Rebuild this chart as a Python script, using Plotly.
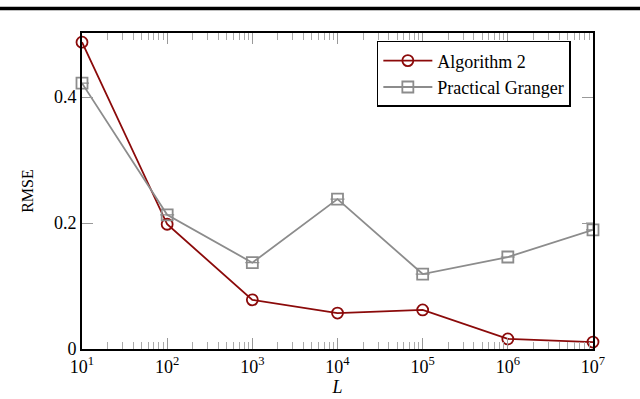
import plotly.graph_objects as go

L_values = [1e1, 1e2, 1e3, 1e4, 1e5, 1e6, 1e7]
alg2_rmse = [0.487, 0.198, 0.078, 0.057, 0.062, 0.016, 0.011]
granger_rmse = [0.422, 0.213, 0.137, 0.238, 0.119, 0.146, 0.189]
granger_err_plus = [0, 0, 0, 0, 0, 0, 0.011]
x_tick_vals = [1e1, 1e2, 1e3, 1e4, 1e5, 1e6, 1e7]
x_tick_text = ["10<sup>1</sup>", "10<sup>2</sup>", "10<sup>3</sup>", "10<sup>4</sup>",
               "10<sup>5</sup>", "10<sup>6</sup>", "10<sup>7</sup>"]
y_tick_vals = [0, 0.2, 0.4]
y_tick_text = ["0", "0.2", "0.4"]

RED = "#8b0a0a"
GRAY = "#8c8c8c"
FONT = "Liberation Serif"

fig = go.Figure()
fig.add_trace(go.Scatter(
    x=L_values, y=alg2_rmse, name="Algorithm 2", mode="lines+markers",
    line=dict(color=RED, width=1.8),
    marker=dict(symbol="circle-open", size=11, color=RED, line=dict(width=1.8)),
    cliponaxis=False,
))
fig.add_trace(go.Scatter(
    x=L_values, y=granger_rmse, name="Practical Granger", mode="lines+markers",
    line=dict(color=GRAY, width=1.8),
    marker=dict(symbol="square-open", size=11, color=GRAY, line=dict(width=1.8)),
    error_y=dict(type="data", symmetric=False, array=granger_err_plus,
                 arrayminus=[0] * len(granger_err_plus), color=GRAY, thickness=1.2, width=7),
    cliponaxis=False,
))

fig.update_layout(
    width=640, height=399,
    margin=dict(l=82, r=47, t=33, b=50, autoexpand=False),
    paper_bgcolor="white", plot_bgcolor="white",
    font=dict(family=FONT, size=15, color="black"),
    showlegend=True,
    legend=dict(
        x=0.577, y=0.975, xanchor="left", yanchor="top",
        bgcolor="white", bordercolor="black", borderwidth=1.5,
        font=dict(family=FONT, size=18, color="black"),
        itemwidth=49, tracegroupgap=0,
    ),
    xaxis=dict(
        type="log", range=[1, 7],
        tickvals=x_tick_vals, ticktext=x_tick_text,
        ticks="inside", ticklen=11, tickcolor="#999999", tickwidth=1,
        showline=True, linecolor="black", linewidth=2, mirror="allticks",
        showgrid=False, zeroline=False,
        tickfont=dict(family=FONT, size=18),
        minor=dict(ticks="inside", ticklen=7, tickcolor="#aaaaaa", tickwidth=1,
                   dtick="D1", showgrid=False),
        title=dict(text="<i>L</i>", font=dict(family=FONT, size=18), standoff=4),
    ),
    yaxis=dict(
        range=[0, 0.5016],
        tickvals=y_tick_vals, ticktext=y_tick_text,
        ticks="inside", ticklen=11, tickcolor="#999999", tickwidth=1,
        showline=True, linecolor="black", linewidth=2, mirror="allticks",
        showgrid=False, zeroline=False,
        tickfont=dict(family=FONT, size=18),
        title=dict(text="RMSE", font=dict(family=FONT, size=16), standoff=16),
    ),
)

# page header rule above the figure
fig.add_shape(type="line", xref="paper", yref="paper",
              x0=-82 / 511, x1=(640 - 82) / 511,
              y0=(349 - 8.5) / 316, y1=(349 - 8.5) / 316,
              line=dict(color="black", width=3.5))

fig.write_html("out.html", config={"displayModeBar": False},
               post_script="document.body.style.margin='0';")
